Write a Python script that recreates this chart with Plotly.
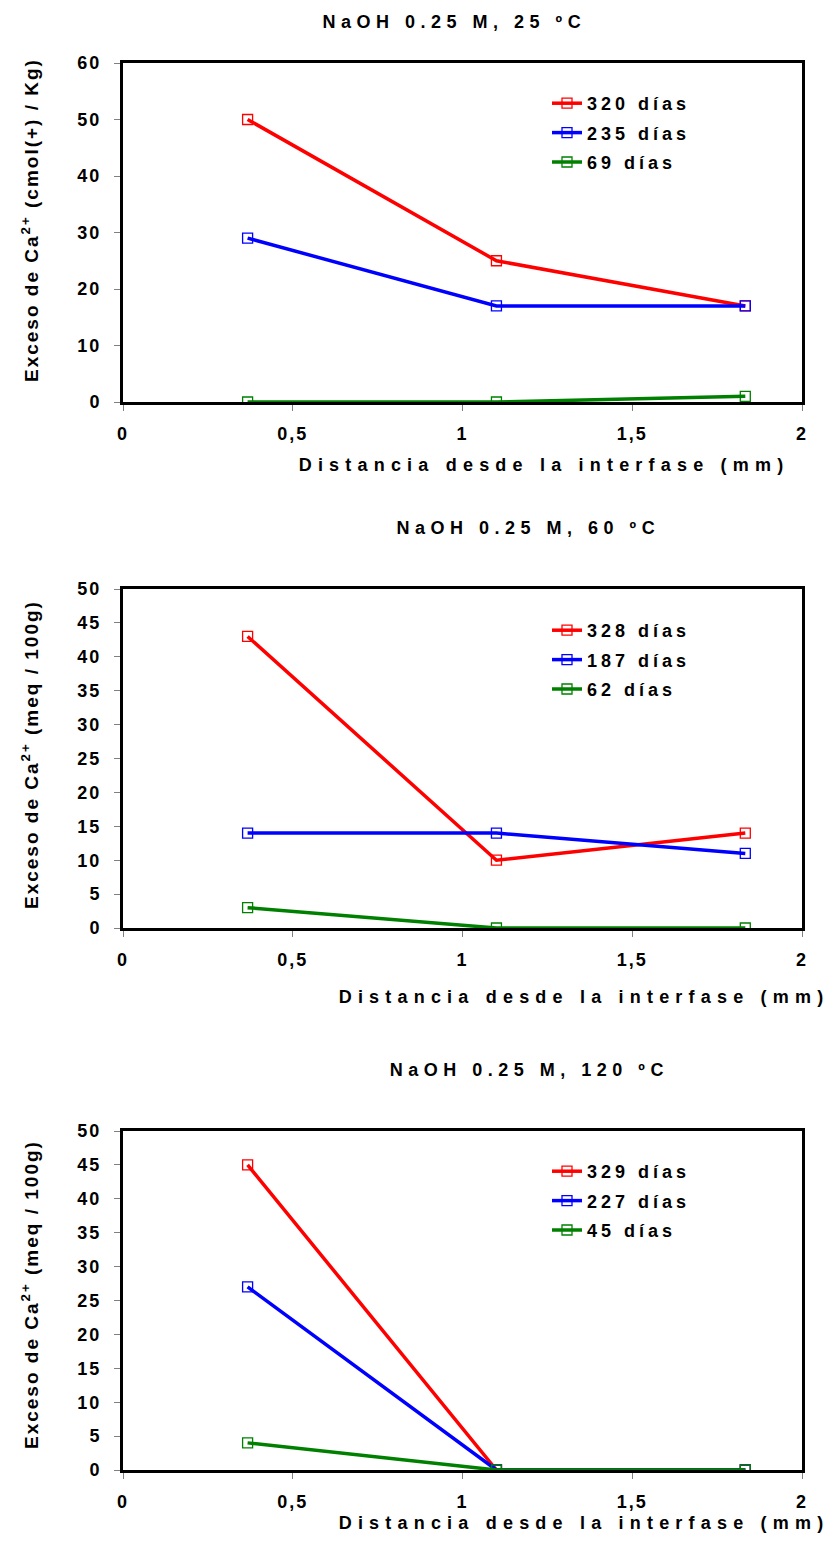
import plotly.graph_objects as go

# ---- data ----
x_pos = [0.367, 1.1, 1.833]
x_tickvals = [0, 0.5, 1, 1.5, 2]
x_ticktext = ["0", "0,5", "1", "1,5", "2"]

p1_title = "NaOH 0.25 M, 25 ºC"
p1_names = ["320 días", "235 días", "69 días"]
p1_320 = [50, 25, 17]
p1_235 = [29, 17, 17]
p1_69 = [0, 0, 1]
p1_yticks = [0, 10, 20, 30, 40, 50, 60]

p2_title = "NaOH 0.25 M, 60 ºC"
p2_names = ["328 días", "187 días", "62 días"]
p2_328 = [43, 10, 14]
p2_187 = [14, 14, 11]
p2_62 = [3, 0, 0]
p2_yticks = [0, 5, 10, 15, 20, 25, 30, 35, 40, 45, 50]

p3_title = "NaOH 0.25 M, 120 ºC"
p3_names = ["329 días", "227 días", "45 días"]
p3_329 = [45, 0, 0]
p3_227 = [27, 0, 0]
p3_45 = [4, 0, 0]
p3_yticks = [0, 5, 10, 15, 20, 25, 30, 35, 40, 45, 50]

y1_title = "Exceso de Ca<sup>2+</sup> (cmol(+) / Kg)"
y23_title = "Exceso de Ca<sup>2+</sup> (meq / 100g)"
x_title = "Distancia desde la interfase (mm)"

colors = ["#FF0000", "#0000FF", "#008000"]

W, H = 835, 1534
def px(x):
    return x / W
def py(y):
    return 1 - y / H

panels = [
    dict(title=p1_title, names=p1_names, series=[p1_320, p1_235, p1_69],
         top=63, bottom=402, ymax=60, yticks=p1_yticks, ytitle=y1_title,
         title_x=455, title_y=22, xt_x=544, xt_y=465, yt_y=220, leg_y=85),
    dict(title=p2_title, names=p2_names, series=[p2_328, p2_187, p2_62],
         top=589, bottom=928, ymax=50, yticks=p2_yticks, ytitle=y23_title,
         title_x=528, title_y=528, xt_x=584, xt_y=997, yt_y=755, leg_y=612),
    dict(title=p3_title, names=p3_names, series=[p3_329, p3_227, p3_45],
         top=1131, bottom=1470, ymax=50, yticks=p3_yticks, ytitle=y23_title,
         title_x=529, title_y=1070, xt_x=584, xt_y=1523, yt_y=1295, leg_y=1153),
]

LEFT, RIGHT = 123, 802
FAM = "Arial, Liberation Sans, sans-serif"
fig = go.Figure()
font_b = dict(family=FAM, size=18, color="black", weight="bold")

annotations = []
for i, p in enumerate(panels):
    n = i + 1
    xa = "x" if n == 1 else f"x{n}"
    ya = "y" if n == 1 else f"y{n}"
    leg = "legend" if n == 1 else f"legend{n}"
    for name, vals, c in zip(p["names"], p["series"], colors):
        fig.add_trace(go.Scatter(
            x=x_pos, y=vals, name=f"<b>{name}</b>", mode="lines+markers",
            line=dict(color=c, width=3.5),
            marker=dict(symbol="square-open", size=10, color=c, line=dict(width=1.3, color=c)),
            xaxis=xa, yaxis=ya, legend=leg, legendgroup=f"{n}{name}",
        ))
    axis_common = dict(showline=True, linewidth=3, linecolor="black", mirror=True,
                       showgrid=False, zeroline=False, ticks="outside", ticklen=6,
                       tickwidth=1, tickcolor="#808080", automargin=False,
                       tickfont=dict(family=FAM, size=18, color="black", weight="bold"))
    fig.update_layout(**{
        ("xaxis" if n == 1 else f"xaxis{n}"): dict(
            axis_common, domain=[px(LEFT), px(RIGHT)], range=[0, 2],
            tickvals=x_tickvals, ticktext=[f"<b>{t}</b>" for t in x_ticktext],
            ticklabelstandoff=7, anchor=ya),
        ("yaxis" if n == 1 else f"yaxis{n}"): dict(
            axis_common, domain=[py(p["bottom"]), py(p["top"])], range=[0, p["ymax"]],
            tickvals=p["yticks"], ticktext=[f"<b>{t}</b>" for t in p["yticks"]],
            ticklabelstandoff=9, anchor=xa),
        leg: dict(x=px(547), y=py(p["leg_y"]), xanchor="left", yanchor="top",
                  bgcolor="rgba(0,0,0,0)", font=font_b, tracegroupgap=3,
                  traceorder="grouped", itemwidth=30),
    })
    annotations.append(dict(text=f"<b>{p['title']}</b>", x=px(p["title_x"]), y=py(p["title_y"]),
                            xref="paper", yref="paper", showarrow=False,
                            xanchor="center", yanchor="middle", font=font_b))
    annotations.append(dict(text=f"<b>{x_title}</b>", x=px(p["xt_x"]), y=py(p["xt_y"]),
                            xref="paper", yref="paper", showarrow=False,
                            xanchor="center", yanchor="middle", font=font_b))
    annotations.append(dict(text=f"<b>{p['ytitle']}</b>", x=px(30), y=py(p["yt_y"]),
                            xref="paper", yref="paper", showarrow=False, textangle=-90,
                            xanchor="center", yanchor="middle",
                            font=dict(font_b, size=19)))

fig.update_layout(
    width=W, height=H, margin=dict(l=0, r=0, t=0, b=0),
    paper_bgcolor="white", plot_bgcolor="white",
    annotations=annotations, showlegend=True,
)

post = """
var s = document.createElement('style');
s.textContent = [
  '.annotation .annotation-text { letter-spacing: 5.5px; }',
  '.annotation[data-index="1"] .annotation-text, .annotation[data-index="4"] .annotation-text, .annotation[data-index="7"] .annotation-text { letter-spacing: 6.2px; }',
  '.annotation[data-index="2"] .annotation-text, .annotation[data-index="5"] .annotation-text, .annotation[data-index="8"] .annotation-text { letter-spacing: 2px; }',
  '.legendtext, .legend2text, .legend3text, [class^="legend"] text { letter-spacing: 4px; }',
  '.scrollbox { clip-path: none !important; }',
  '.xtick text, .x2tick text, .x3tick text, .ytick text, .y2tick text, .y3tick text { letter-spacing: 2px; }'
].join('\\n');
document.head.appendChild(s);
"""
fig.write_html("out.html", post_script=post)
